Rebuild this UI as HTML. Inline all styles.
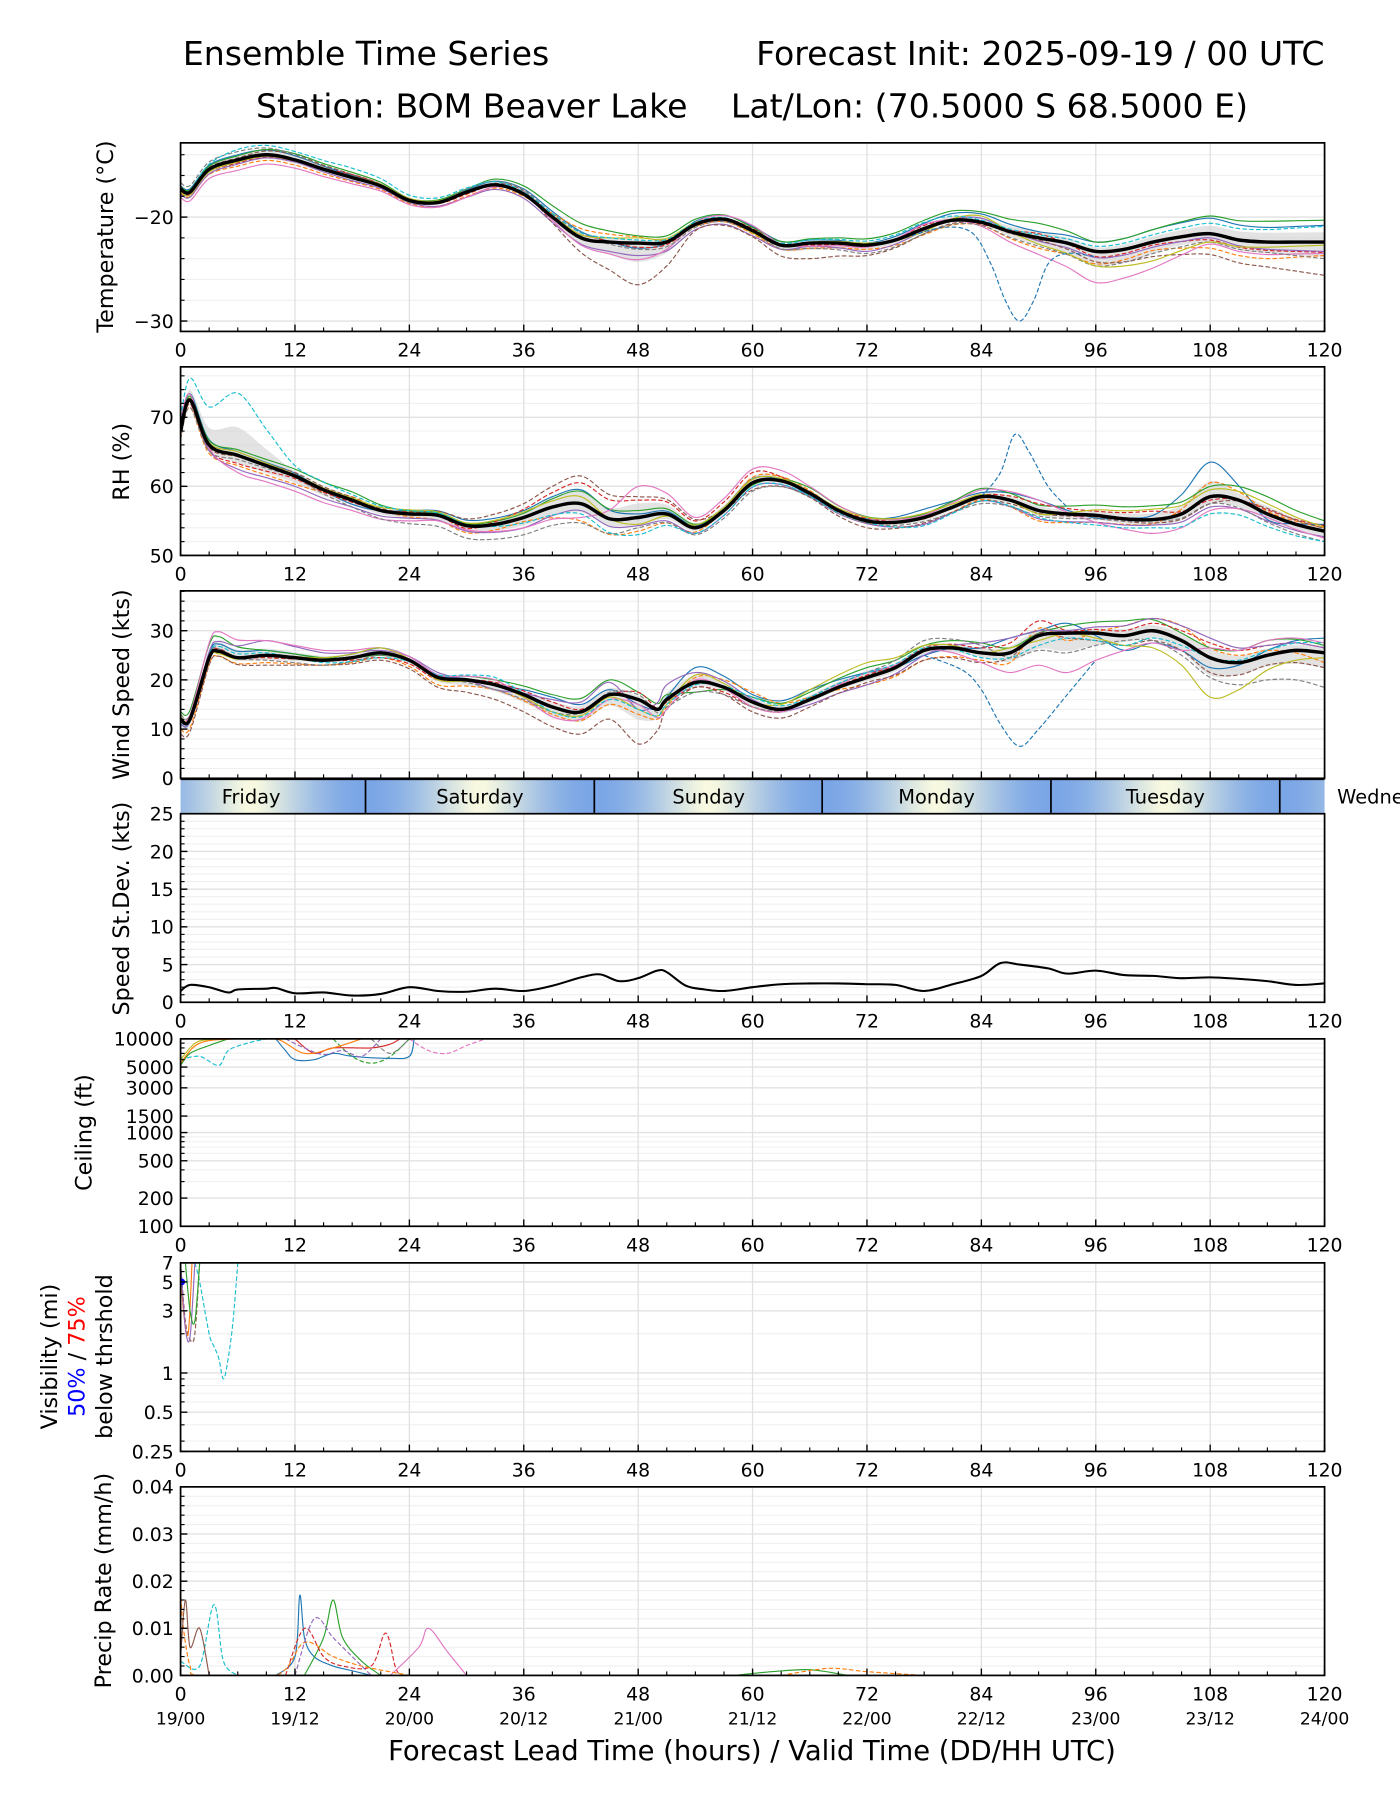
<!DOCTYPE html>
<html><head><meta charset="utf-8"><style>
html,body{margin:0;padding:0;background:#fff;}
svg{display:block;font-family:"DejaVu Sans","Liberation Sans",sans-serif;}
</style></head><body>
<svg id="fig" width="1400" height="1800" viewBox="0 0 1225 1575" xmlns="http://www.w3.org/2000/svg">
<text x="160" y="57" font-size="29">Ensemble Time Series</text>
<text x="1159" y="57" font-size="29" text-anchor="end">Forecast Init: 2025-09-19 / 00 UTC</text>
<text x="224" y="103" font-size="29">Station: BOM Beaver Lake</text>
<text x="1092" y="103" font-size="29" text-anchor="end">Lat/Lon: (70.5000 S 68.5000 E)</text>
<text x="658" y="1540" font-size="24" text-anchor="middle">Forecast Lead Time (hours) / Valid Time (DD/HH UTC)</text>
<g id="root"></g>
</svg>
<script>
// ---------- DATA ----------
const colors = ["#1f77b4","#ff7f0e","#2ca02c","#d62728","#9467bd","#8c564b","#e377c2","#7f7f7f","#bcbd22","#17becf"];
const grid6 = [0,6,12,18,24,30,36,42,48,54,60,66,72,78,84,90,96,102,108,114,120];

const tempHours = [0,1,3,6,9,12,15,18,21,24,27,30,33,36,39,42,45,48,51,54,57,60,63,66,69,72,75,78,81,84,87,90,93,96,99,102,105,108,111,114,117,120];
const tempMean = [-17.3,-17.6,-15.4,-14.5,-14.0,-14.5,-15.4,-16.2,-17.0,-18.4,-18.6,-17.6,-16.9,-17.8,-20.0,-22.0,-22.4,-22.5,-22.4,-20.7,-20.2,-21.3,-22.7,-22.5,-22.5,-22.7,-22.2,-21.1,-20.3,-20.5,-21.4,-22.0,-22.5,-23.3,-23.1,-22.4,-21.9,-21.6,-22.2,-22.4,-22.4,-22.4];
const tempOff = [
 [0.3,0.5,0.4,0.2,0.1,0.2,0.5,0.6,-0.5,0.3,0.4,0.3,0.2,0.5,0.8,0.6,0.9,1.2,1.5,1.4,1.6],
 [-0.4,-0.6,-0.5,-0.4,-0.3,-0.4,-0.2,0.9,0.6,-0.2,-0.3,-0.5,-0.4,-0.6,-0.3,-1.0,-1.2,-0.8,-1.4,-1.6,-1.3],
 [0.2,0.4,0.6,0.5,0.2,0.3,0.8,1.4,0.7,0.5,0.3,0.4,0.6,0.8,1.0,1.4,0.9,1.2,1.7,2.0,2.1],
 [-0.2,-0.3,-0.2,0.3,0.0,-0.2,0.2,0.5,-0.4,-0.1,0.2,-0.2,-0.1,0.3,-0.2,0.4,-0.5,-0.3,-0.6,-0.8,-1.0],
 [-0.5,-0.4,-0.2,-0.3,-0.2,-0.5,-0.4,-0.6,-1.2,-0.5,-0.5,-0.3,-0.6,-0.2,0.4,-0.3,-0.6,-0.5,-0.4,-0.7,-0.9],
 [0.1,0.2,0.5,0.3,-0.1,0.0,0.3,-1.4,-4.0,-0.6,-0.6,-1.5,-1.0,-0.5,-0.1,-0.2,-1.0,-1.4,-2.0,-2.4,-3.2],
 [-0.8,-1.0,-0.8,-0.6,-0.4,-0.5,0.1,-0.7,-1.6,0.2,0.5,-0.3,-0.2,0.4,-0.4,-1.6,-3.0,-2.5,-1.0,-1.2,-1.1],
 [0.6,0.8,0.5,0.0,-0.2,0.3,0.4,0.2,-0.6,-0.3,-0.2,-0.5,-0.8,-0.5,-0.3,-0.8,-1.4,-1.1,-0.8,-1.0,-1.6],
 [-0.3,-0.2,-0.1,0.1,0.2,0.1,0.0,0.3,0.5,0.2,-0.2,0.1,0.2,-0.3,0.6,-0.6,-1.4,-1.8,-0.8,-0.5,-0.3],
 [0.0,1.0,0.8,0.9,0.5,0.4,0.2,0.5,0.3,0.2,0.1,0.3,0.4,0.6,0.2,0.3,0.5,0.7,1.0,1.2,1.5]
];
const tempOutlierHours = [76,80,83,85,86.5,88,89.5,91,93,96];
const tempOutlierVals = [-22.0,-21.0,-21.5,-24.5,-28.0,-30.0,-28.0,-24.5,-23.5,-23.8];

const rhHours = [0,1,3,6,9,12,15,18,21,24,27,30,33,36,39,42,45,48,51,54,57,60,63,66,69,72,75,78,81,84,87,90,93,96,99,102,105,108,111,114,117,120];
const rhMean = [68,72.5,66,64.5,63,61.5,59.5,58,56.5,56,55.8,54.3,54.5,55.5,57,57.5,55.3,55.5,56,54,56.5,60.5,60.8,59,56.5,55,54.8,55.5,57,58.5,58,56.5,56,55.8,55.3,55.2,56,58.5,58,56,54.5,53.5];
const rhOff = [
 [1,0.5,0.4,-0.6,0.5,0.8,1.0,2.0,0.5,0.3,0.6,-0.4,0.3,1.2,0.6,1.5,-0.4,0.6,5.0,-0.8,1.0],
 [-1,-1.5,-1.2,0.5,-0.4,-1.0,-0.6,-2.5,-2.0,-0.6,0.8,0.4,-0.3,-1.0,-0.4,-1.5,-1.0,-0.6,2.0,0.4,0.5],
 [0.5,0.8,1.0,1.2,0.4,0.3,0.6,1.8,1.0,0.5,-0.3,0.8,0.6,0.5,1.2,0.8,1.5,2.0,1.5,2.5,1.5],
 [-0.5,-1.2,-0.4,-0.3,0.3,-0.4,1.2,3.0,2.5,1.0,1.5,-0.3,0.4,-0.2,0.2,1.0,0.6,1.2,-0.5,0.6,0.8],
 [0.3,-2.0,-1.5,-1.0,-0.6,-0.8,-1.5,-1.0,-1.2,-0.8,-0.6,-0.5,-0.4,-1.0,-0.6,-1.2,-1.0,-0.8,-1.5,-1.0,-0.8],
 [-0.6,-0.2,0.5,0.4,0.2,1.0,2.0,4.0,3.0,1.2,-1.0,-0.6,-1.0,-0.8,-0.6,-0.4,-0.2,-0.5,-1.0,0.8,0.4],
 [1.5,-2.5,-2.2,-1.5,-1.0,-0.6,-1.5,-2.0,4.5,1.5,2.0,1.0,0.5,0.3,1.0,1.5,-1.0,-2.0,-2.0,-0.5,-1.0],
 [-1.2,-0.6,-0.2,-1.0,-1.4,-1.8,-2.5,-2.8,-1.5,-1.0,-1.2,-0.5,-0.3,-0.6,-1.0,-0.8,-0.5,-0.2,-1.0,-1.2,-1.5],
 [0.2,0.5,0.2,0.3,0.6,0.4,0.8,1.0,-1.0,0.4,0.5,0.2,0.5,0.6,0.3,-0.5,0.8,1.5,1.0,1.5,0.6],
 [2.0,9.0,1.5,0.8,0.5,0.2,-0.8,-1.5,-2.5,-0.8,-0.6,-0.4,-0.2,-1.2,-0.6,-1.0,-1.4,-1.2,-2.5,-1.8,-1.5]
];
const rhOutlierHours = [84,86,87.5,89,91,93];
const rhOutlierVals = [58.5,62,67.5,65,60,57];

const windHours = [0,1,3,4,6,9,12,15,18,21,24,27,30,33,36,39,42,45,48,50,51,54,57,60,63,66,69,72,75,78,81,84,87,90,93,96,99,102,105,108,111,114,117,120];
const windMean = [12,12,24.5,25.8,24.5,25,24.5,24,24.5,25.5,24,20.5,20,19,17,14.5,13.5,17,16,14,16,19.5,18.5,15.5,14,16,18.5,20.5,22.5,26,26.5,25.5,25.5,29,29.5,29.5,29,30,28,24.5,23.5,25,26,25.5];
const windOff = [
 [-1,1.5,1,0.5,1,0.5,0,2,1,-1,0.5,3,1.5,2,1,-1,1,3,1,2,-3,-2,-2,1,3],
 [-2,-1,-1.5,-1,-1,-1.5,-1,-1.5,-2,-3,-1.5,1,2,0.5,-1.5,-2,-1.5,-2,1.5,-1.5,2,3,2,1,-2],
 [1.5,3,1,0.5,-0.5,0.5,1,2.5,3,1.5,1,-2,1,1.5,2,1,2,1,0.5,1.5,3,1.5,2,3,1.5],
 [0,0.5,-0.5,0,-1,-0.5,0.5,1,0,1.5,-0.5,-1,-1,0,0.5,0.5,1,2,3,0.5,1,2,3,2,1],
 [-1,2,3,1.5,0.5,1,-1,1.5,2.5,-2,3,2,0.5,-1,-1.5,-1,2,3,1,0.5,2,3,4,2,1],
 [-3,-1,-2,-1,-1.5,-2,-3,-4,-5,-9,-2,-1,-2,-1.5,-1,-2,-2,-1,0.5,-1,-2,-2,-3,-2,-3],
 [0,4,3,2,1,0.5,1,-2,-1,-1,-2,0.5,-1,0,1,0,-2,-4,-6,-8,-3,-2,2,3,2],
 [1,0.5,-1,-1,-0.5,0,-1,-1,0.5,1,-1.5,-2,-1,0.5,1,2,1.5,-1,-3,-4,-1,-3,-4,-5,-7],
 [0.5,-0.5,0,0.5,1,-0.5,0,-1,-0.5,-2,-1,1.5,0,2,3,1,0,1,-1,0,-2,-5,-8,-3,-1],
 [-0.5,1,0.5,-0.5,-1,0.5,1.5,-1,-1,-2,-1,-0.5,1,0.5,1,0.5,-1,-1,-2,-1,-2,-1,0,1,2]
];
const windGrid = [0,4,9,15,21,27,33,39,45,48,51,54,60,66,72,78,84,87,90,93,99,105,108,114,120];
const windOutlierHours = [78,82,84,86,88,90,93,96];
const windOutlierVals = [25,22,18,11,6.5,10,17,24];

const sdHours = [0,1,3,5,6,9,10,12,15,18,21,24,27,30,33,36,39,42,44,46,48,50,51,53,55,57,60,63,66,69,72,75,78,81,84,86,88,91,93,96,99,102,105,108,111,114,117,120];
const sdVals = [1.5,2.3,2.0,1.3,1.7,1.8,1.9,1.2,1.3,0.9,1.1,2.0,1.5,1.4,1.8,1.5,2.2,3.3,3.7,2.8,3.2,4.2,4.0,2.2,1.7,1.5,2.0,2.4,2.5,2.5,2.4,2.3,1.5,2.4,3.5,5.2,5.0,4.5,3.8,4.2,3.6,3.5,3.2,3.3,3.1,2.8,2.3,2.5];

const ceilHours = [[0,2,4,5,7,9],[0,1,3,5],[16,18,20,22,24],[10,11,12,14,16,18,22,24,24.5],[24,26,28,30,32],[12,14,16,20,22,23],[20,22,24],[0,2,6,10,13,16,19],[11,13,15,17,19,21],[0,1,2,4]];
const ceilVals = [[6000,6500,5200,7500,9000,10000],[5200,7000,8500,10000],[10000,6500,5500,6500,10000],[10000,7500,6000,6000,7000,6500,6200,6500,10000],[10000,7500,7000,8500,10000],[10000,7000,8000,8000,8800,10000],[10000,7000,10000],[5500,9000,10000,10000,7000,8000,10000],[10000,8000,6800,7500,6500,10000],[6000,8000,9500,10000]];
const ceilColor = [9,2,2,0,6,3,7,1,4,8];

const visHours = [[1.5,2,3,3.5,4,4.5,5,5.5,6],[0,0.5,1,1.5,2],[0,0.3,0.8,1.2],[0,0.5,1,1.5],[0.5,1,1.5,2]];
const visVals = [[7,5,2,1.6,1.3,0.9,1.3,2.5,7],[7,2.5,1.8,2,7],[7,3,2,7],[7,2.2,1.9,7],[7,3,2.5,7]];
const visColor = [9,5,1,4,2];

const precipHours = [[10,12,12.5,13,14,16,18,20],[0,2,3.5,4.5,6],[13,15,16,17,19,21],[11,13,15,17,20,21.5,22.5,23],[22,25,26,28,30],[0,0.3,1,2,10,13,16,19,24],[0,0.5,1,2,3],[12,14,16,18,20],[58,62,66,70],[63,68,72,78]];
const precipVals = [[0,0.004,0.017,0.008,0.004,0.002,0.001,0],[0.003,0.002,0.015,0.003,0],[0,0.008,0.016,0.008,0.003,0],[0,0.01,0.004,0.002,0.002,0.009,0.002,0],[0,0.006,0.01,0.005,0],[0.018,0.01,0.002,0,0,0.007,0.004,0.002,0],[0.004,0.016,0.006,0.01,0],[0,0.012,0.008,0.004,0],[0,0.0008,0.0012,0],[0,0.0015,0.0008,0]];
const precipColor = [0,9,2,3,6,1,5,4,2,1];

const xTicks = [0,12,24,36,48,60,72,84,96,108,120];
const validLabels = ["19/00","19/12","20/00","20/12","21/00","21/12","22/00","22/12","23/00","23/12","24/00"];
const dayNames = ["Friday","Saturday","Sunday","Monday","Tuesday","Wednesday"];
const dayStarts = [19.4,43.4,67.3,91.3,115.3];

// ---------- DRAW ----------
const NS="http://www.w3.org/2000/svg";
const root=document.getElementById('root');
const X0=158,X1=1159;
const TF=16.5;
const xs=h=>X0+(h/120)*(X1-X0);
function el(tag,attrs,parent){const e=document.createElementNS(NS,tag);for(const k in attrs)e.setAttribute(k,attrs[k]);(parent||root).appendChild(e);return e;}
function interp(hs,vs,h){if(h<=hs[0])return vs[0];for(let i=1;i<hs.length;i++){if(h<=hs[i]){const t=(h-hs[i-1])/(hs[i]-hs[i-1]);return vs[i-1]+t*(vs[i]-vs[i-1]);}}return vs[vs.length-1];}
function smoothPath(pts){if(pts.length<2)return"";let d="M"+pts[0][0].toFixed(1)+","+pts[0][1].toFixed(1);
 for(let i=0;i<pts.length-1;i++){const p0=pts[Math.max(0,i-1)],p1=pts[i],p2=pts[i+1],p3=pts[Math.min(pts.length-1,i+2)];
 const c1=[p1[0]+(p2[0]-p0[0])/6,p1[1]+(p2[1]-p0[1])/6],c2=[p2[0]-(p3[0]-p1[0])/6,p2[1]-(p3[1]-p1[1])/6];
 d+="C"+c1[0].toFixed(1)+","+c1[1].toFixed(1)+" "+c2[0].toFixed(1)+","+c2[1].toFixed(1)+" "+p2[0].toFixed(1)+","+p2[1].toFixed(1);}return d;}

let clipN=0;
function panel(name,top,bot,yfn,major,minor,fmt,opts){
 opts=opts||{};
 const g=el('g',{});
 
 
 const id='clip'+(clipN++);
 const cp=el('clipPath',{id:id},g);el('rect',{x:X0,y:top,width:X1-X0,height:bot-top},cp);
 minor.forEach(v=>{const y=yfn(v);if(y>=top&&y<=bot)el('line',{x1:X0,x2:X1,y1:y,y2:y,stroke:'#f0f0f0','stroke-width':1},g);});
 major.forEach(v=>{const y=yfn(v);el('line',{x1:X0,x2:X1,y1:y,y2:y,stroke:'#e2e2e2','stroke-width':1.2},g);});
 xTicks.forEach(h=>el('line',{x1:xs(h),x2:xs(h),y1:top,y2:bot,stroke:'#e2e2e2','stroke-width':1.2},g));
 const plot=el('g',{'clip-path':'url(#'+id+')'},g);
 
 
 el('rect',{x:X0,y:top,width:X1-X0,height:bot-top,fill:'none',stroke:'#000','stroke-width':1.5},g);
 minor.forEach(v=>{const y=yfn(v);if(y>=top-0.5&&y<=bot+0.5)el('line',{x1:X0,x2:X0+3.5,y1:y,y2:y,stroke:'#000','stroke-width':1},g);});
 major.forEach(v=>{const y=yfn(v);el('line',{x1:X0,x2:X0+6,y1:y,y2:y,stroke:'#000','stroke-width':1.2},g);
  const t=el('text',{x:X0-6,y:y+6,'font-size':TF,'text-anchor':'end'},g);t.textContent=fmt(v);
  
  });
 for(let h=0;h<=120;h+=3){const mj=h%12===0;el('line',{x1:xs(h),x2:xs(h),y1:bot,y2:bot-(mj?6:3.5),stroke:'#000','stroke-width':mj?1.2:1},g);}
 if(!opts.noXLabels) xTicks.forEach((h,i)=>{const t=el('text',{x:xs(h),y:bot+22,'font-size':TF,'text-anchor':'middle'},g);t.textContent=h;
  
  
  if(opts.valid){const t2=el('text',{x:xs(h),y:bot+43,'font-size':15,'text-anchor':'middle'},g);t2.textContent=validLabels[i];
   
   }});
 return plot;
}
function ytitle(name,x,cy,lines){const g=el('g',{transform:'translate('+x+','+cy+') rotate(-90)'});
 
 
 lines.forEach((ln,i)=>{const t=el('text',{x:0,y:i*24,'font-size':19.5,'text-anchor':'middle'},g);
  ln.forEach(s=>{const ts=el('tspan',{fill:s[1]||'#000'},t);ts.textContent=s[0];});});}

function drawEnsemble(plot,name,hours,mean,offs,grid,yfn,outH,outV){
 const up=[],lo=[];
 hours.forEach(h=>{const o=offs.map(a=>interp(grid,a,h));const mx=Math.max(...o),mn=Math.min(...o);const m=interp(hours,mean,h);
  up.push([xs(h),yfn(m+mx*0.45)]);lo.push([xs(h),yfn(m+mn*0.45)]);});
 const band=el('path',{d:smoothPath(up)+"L"+smoothPath(lo.reverse()).slice(1)+"Z",fill:'#d0d0d0','fill-opacity':0.6,stroke:'none'},plot);
 
 
 offs.forEach((a,k)=>{const pts=hours.map(h=>[xs(h),yfn(interp(hours,mean,h)+interp(grid,a,h))]);
  const p=el('path',{d:smoothPath(pts),fill:'none',stroke:colors[k],'stroke-width':1,'stroke-dasharray':k%2?'4,2':'none'},plot);
  
  });
 if(outH){const p=el('path',{d:smoothPath(outH.map((h,i)=>[xs(h),yfn(outV[i])])),fill:'none',stroke:colors[0],'stroke-width':1,'stroke-dasharray':'4,2'},plot);
  
  }
 const m=el('path',{d:smoothPath(hours.map((h,i)=>[xs(h),yfn(mean[i])])),fill:'none',stroke:'#000','stroke-width':3},plot);
 
 
}
function rng(a,b,s){const r=[];for(let v=a;v<=b+1e-9;v+=s)r.push(+v.toFixed(6));return r;}
function lin(top,bot,mn,mx){return v=>bot-(v-mn)/(mx-mn)*(bot-top);}
function lg(top,bot,mn,mx){return v=>bot-(Math.log10(v)-Math.log10(mn))/(Math.log10(mx)-Math.log10(mn))*(bot-top);}

// Temperature
let yf=lin(125,290,-31,-12.86);
let p=panel('temperature',125,290,yf,[-30,-20],rng(-30,-14,2),v=>'\u2212'+Math.abs(v));
drawEnsemble(p,'temperature',tempHours,tempMean,tempOff,grid6,yf,tempOutlierHours,tempOutlierVals);
ytitle('temperature-y-title',99,207,[[["Temperature (°C)"]]]);
// RH
yf=lin(321,486,50,77.3);
p=panel('rh',321,486,yf,[50,60,70],rng(50,76,2),v=>v);
drawEnsemble(p,'rh',rhHours,rhMean,rhOff,grid6,yf,rhOutlierHours,rhOutlierVals);
ytitle('rh-y-title',113,404,[[["RH (%)"]]]);
// Wind
yf=lin(517,681,0,38.1);
p=panel('wind',517,681,yf,[0,10,20,30],rng(0,38,2),v=>v,{noXLabels:true});
drawEnsemble(p,'wind',windHours,windMean,windOff,windGrid,yf,windOutlierHours,windOutlierVals);
ytitle('wind-y-title',113,599,[[["Wind Speed (kts)"]]]);
// Day band
(function(){const g=el('g',{});
 const grad=el('linearGradient',{id:'dayg',gradientUnits:'userSpaceOnUse',x1:X0,x2:X1,y1:0,y2:0},g);
 for(let h=0;h<=120;h+=1){const ph=((h-dayStarts[0])%24+24)%24;const w=Math.pow(Math.abs(Math.cos(Math.PI*ph/24)),1.3);
  const c=[251+(122-251)*w,251+(166-251)*w,224+(230-224)*w].map(Math.round);
  el('stop',{offset:(h/120).toFixed(4),'stop-color':'rgb('+c.join(',')+')'},grad);}
 el('rect',{x:X0,y:682,width:X1-X0,height:30,fill:'url(#dayg)'},g);
 el('line',{x1:X0,x2:X1,y1:682,y2:682,stroke:'#000','stroke-width':1.2},g);
 dayStarts.forEach(h=>el('line',{x1:xs(h),x2:xs(h),y1:682,y2:712,stroke:'#000','stroke-width':1.5},g));
 dayNames.forEach((n,i)=>{let cx;if(i===0)cx=xs(dayStarts[0]-12);else if(i<5)cx=xs(dayStarts[i-1]+12);else cx=null;
  const t=el('text',cx===null?{x:1170,y:703,'font-size':17}:{x:cx,y:703,'font-size':17,'text-anchor':'middle'},g);t.textContent=n;
  
  });
})();
// SD
yf=lin(712,877,0,25);
p=panel('speed-sd',712,877,yf,[0,5,10,15,20,25],rng(0,25,1),v=>v);
(function(){const l=el('path',{d:smoothPath(sdHours.map((h,i)=>[xs(h),yf(sdVals[i])])),fill:'none',stroke:'#000','stroke-width':1.8},p);
 })();
ytitle('speed-sd-y-title',113,795,[[["Speed St.Dev. (kts)"]]]);
// Ceiling
yf=lg(909,1073,100,10000);
p=panel('ceiling',909,1073,yf,[100,200,500,1000,1500,3000,5000,10000],[300,400,600,700,800,900,2000,4000,6000,7000,8000,9000],v=>v);
ceilHours.forEach((hs,k)=>{const l=el('path',{d:smoothPath(hs.map((h,i)=>[xs(h),yf(ceilVals[k][i])])),fill:'none',stroke:colors[ceilColor[k]],'stroke-width':1,'stroke-dasharray':k%2===0?'4,2':'none'},p);
 });
ytitle('ceiling-y-title',80,991,[[["Ceiling (ft)"]]]);
// Visibility
yf=lg(1105,1270,0.25,7);
p=panel('visibility',1105,1270,yf,[0.25,0.5,1,3,5,7],[0.3,0.4,0.6,0.7,0.8,0.9,2,4,6],v=>v);
visHours.forEach((hs,k)=>{const l=el('path',{d:smoothPath(hs.map((h,i)=>[xs(h),yf(visVals[k][i])])),fill:'none',stroke:colors[visColor[k]],'stroke-width':1,'stroke-dasharray':k<2?'4,2':'none'},p);
 });
(function(){const c=el('circle',{cx:xs(0)+1,cy:yf(5),r:3,fill:'#0000ff'},p);})();
ytitle('visibility-y-title',50,1187,[[["Visibility (mi)"]],[["50%","#0000ff"],[" / "],["75%","#ff0000"]],[["below thrshold"]]]);
// Precip
yf=lin(1301,1466,0,0.04);
p=panel('precip',1301,1466,yf,[0,0.01,0.02,0.03,0.04],rng(0,0.04,0.002),v=>v.toFixed(2),{valid:true});
precipHours.forEach((hs,k)=>{const l=el('path',{d:smoothPath(hs.map((h,i)=>[xs(h),yf(precipVals[k][i])])),fill:'none',stroke:colors[precipColor[k]],'stroke-width':1,'stroke-dasharray':k%2?'4,2':'none'},p);
 });
ytitle('precip-y-title',97,1383,[[["Precip Rate (mm/h)"]]]);
</script>
</body></html>
